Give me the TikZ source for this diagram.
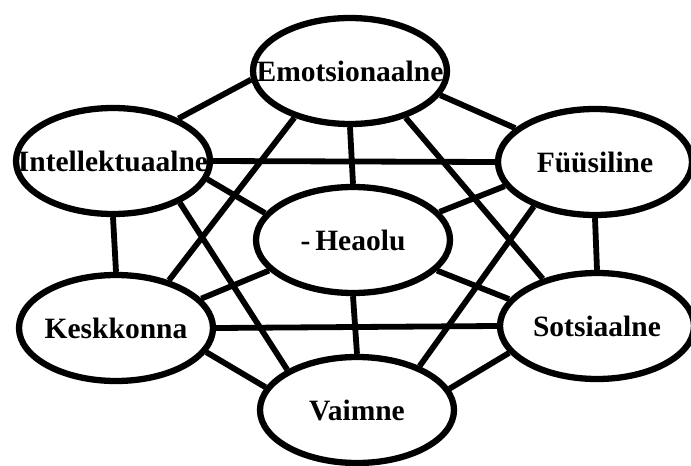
\documentclass[tikz,border=0pt]{standalone}
\usepackage{fontspec}
\setmainfont{Liberation Serif}
\usetikzlibrary{shapes.geometric}

\begin{document}
\begin{tikzpicture}[x=1pt,y=-1pt,line width=5.8pt]
\tikzset{blob/.style={draw,ellipse,fill=white,inner sep=0pt,line width=6.3pt,
minimum width=194pt,minimum height=106pt,
font=\fontsize{29.5}{31}\selectfont\bfseries}}
\useasboundingbox (0,0) rectangle (691,466);
\node[blob] (emo) at (350,71) {\makebox[0pt]{Emotsionaalne}};
\node[blob] (int) at (113,161) {\makebox[0pt]{Intellektuaalne}};
\node[blob] (fuu) at (595,162) {\makebox[0pt]{Füüsiline}};
\node[blob] (hea) at (353,240) {\makebox[0pt]{-\,Heaolu}};
\node[blob] (kes) at (116,328) {\makebox[0pt]{Keskkonna}};
\node[blob] (sot) at (597,326) {\makebox[0pt]{Sotsiaalne}};
\node[blob] (vai) at (357,410) {\makebox[0pt]{Vaimne}};
% outer ring
\draw (emo.185)--(int.33);
\draw (emo.345)--(fuu.157);
\draw (int.270)--(kes.90);
\draw (fuu.270)--(sot.90);
\draw (kes.345)--(vai.166);
\draw (sot.197)--(vai.13);
% long chords
\draw (int.0)--(fuu.180);
\draw (kes.0)--(sot.180);
\draw (emo.220)--(kes.42);
\draw (emo.320)--(sot.139);
\draw (int.328)--(vai.150);
\draw (fuu.216)--(vai.35);
% spokes to the centre
\draw (emo.270)--(hea.90);
\draw (hea.270)--(vai.90);
\draw (int.349)--(hea.163);
\draw (fuu.195)--(hea.18);
\draw (kes.19)--(hea.200);
\draw (sot.163)--(hea.340);
\end{tikzpicture}
\end{document}
